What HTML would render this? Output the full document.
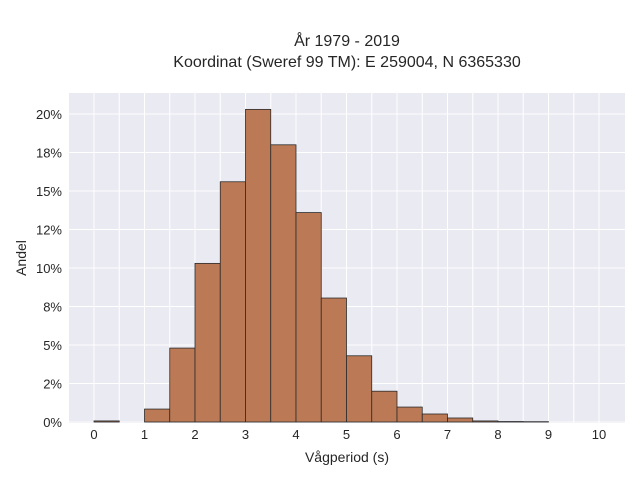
<!DOCTYPE html>
<html><head><meta charset="utf-8"><style>
body{margin:0;background:#fff;font-family:"Liberation Sans",sans-serif}
svg text{font-family:"Liberation Sans",sans-serif;fill:#262626}
</style></head><body>
<svg id="chart" width="640" height="480" xmlns="http://www.w3.org/2000/svg">
<text x="347" y="46" font-size="16" text-anchor="middle">År 1979 - 2019</text>
<text x="347" y="67" font-size="16" text-anchor="middle">Koordinat (Sweref 99 TM): E 259004, N 6365330</text>
<rect x="69" y="93" width="556" height="330" fill="#eaeaf2"/>
<g id="grid"></g>
<g id="bars"></g>
<g id="ticks"></g>
<text x="347" y="462" font-size="14" text-anchor="middle">Vågperiod (s)</text>
<text x="26" y="258" font-size="14" text-anchor="middle" transform="rotate(-90 26 258)">Andel</text>
</svg>
<script>
const binStarts=[0,0.5,1,1.5,2,2.5,3,3.5,4,4.5,5,5.5,6,6.5,7,7.5,8,8.5];
const shares=[0.07,0,0.84,4.8,10.3,15.6,20.3,18.0,13.6,8.05,4.3,2.0,0.97,0.52,0.26,0.07,0.03,0.02];
const xTicks=[0,1,2,3,4,5,6,7,8,9,10];
const yTicks=[0,2.5,5,7.5,10,12.5,15,17.5,20];
const yTickLabels=["0%","2%","5%","8%","10%","12%","15%","18%","20%"];
const binWidth=0.5;
const NS="http://www.w3.org/2000/svg";
const X=v=>94+v*50.5, Y=v=>422-v*15.4;
const grid=document.getElementById('grid'),bars=document.getElementById('bars'),ticks=document.getElementById('ticks');
function mk(tag,attrs,parent){const e=document.createElementNS(NS,tag);for(const k in attrs)e.setAttribute(k,attrs[k]);parent.appendChild(e);return e;}
for(let v=0;v<=10;v+=0.5){const l=mk('line',{x1:X(v),x2:X(v),y1:93,y2:423,stroke:'#fff','stroke-width':1},grid);

}
yTicks.forEach((v,i)=>{const l=mk('line',{x1:69,x2:625,y1:Y(v),y2:Y(v),stroke:'#fff','stroke-width':1},grid);


const t=mk('text',{x:62,y:Y(v)+5,'font-size':13,'text-anchor':'end'},ticks);t.textContent=yTickLabels[i];

});
xTicks.forEach(v=>{const t=mk('text',{x:X(v),y:439,'font-size':13,'text-anchor':'middle'},ticks);t.textContent=v;

});
binStarts.forEach((b,i)=>{if(shares[i]<=0)return;const r=mk('rect',{x:X(b),y:Y(shares[i]),width:X(b+binWidth)-X(b),height:Y(0)-Y(shares[i]),fill:'#bb7a55',stroke:'#2b2b2b','stroke-width':0.8},bars);

});
</script>
</body></html>
